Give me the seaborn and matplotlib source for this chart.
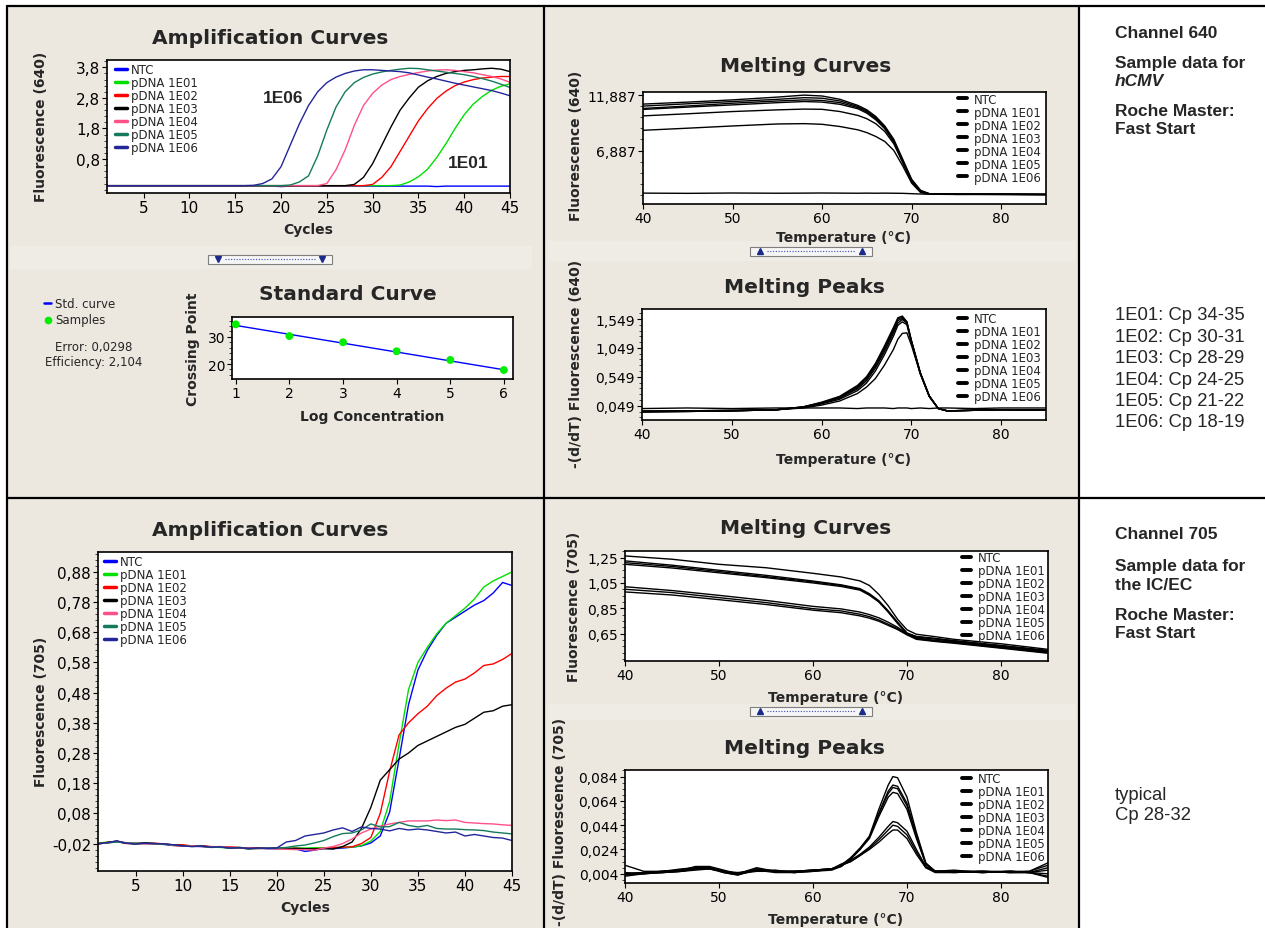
import pandas as pd
import seaborn as sns
import matplotlib.pyplot as plt
from matplotlib.ticker import AutoMinorLocator
from matplotlib.patches import Rectangle
from matplotlib.lines import Line2D

# ---- data ----
samples = ['NTC', 'pDNA 1E01', 'pDNA 1E02', 'pDNA 1E03', 'pDNA 1E04', 'pDNA 1E05', 'pDNA 1E06']
amp_colors = ['#0000FF', '#00E000', '#FF0000', '#000000', '#FF5088', '#157A5C', '#25259A']
melt_colors = ['#000000'] * 7

cycles = list(range(1, 46))

# channel 640 amplification
amp640_ntc = [-0.085] * 19 + [-0.10] + [-0.085] * 16 + [-0.10] + [-0.085] * 8
amp640_1e01 = [-0.07] * 32 + [-0.05, 0.05, 0.22, 0.47, 0.85, 1.3, 1.8, 2.25, 2.6, 2.85, 3.05, 3.18, 3.26]
amp640_1e02 = [-0.07] * 29 + [-0.03, 0.2, 0.55, 1.05, 1.55, 2.05, 2.45, 2.78, 3.02, 3.2, 3.32, 3.4, 3.45,
                              3.48, 3.5, 3.5]
amp640_1e03 = [-0.07] * 27 + [-0.03, 0.2, 0.65, 1.25, 1.85, 2.4, 2.8, 3.15, 3.36, 3.5, 3.6, 3.66, 3.7, 3.72,
                              3.75, 3.77, 3.74, 3.66]
amp640_1e04 = [-0.07] * 24 + [0.0, 0.45, 1.1, 1.9, 2.55, 2.95, 3.22, 3.4, 3.5, 3.57, 3.63, 3.68, 3.71, 3.72,
                              3.7, 3.66, 3.62, 3.56, 3.5, 3.42, 3.31]
amp640_1e05 = [-0.07] * 20 + [-0.05, 0.05, 0.25, 0.9, 1.75, 2.5, 3.0, 3.3, 3.47, 3.58, 3.65, 3.7, 3.74, 3.77,
                              3.76, 3.72, 3.68, 3.64, 3.6, 3.56, 3.5, 3.43, 3.35, 3.25, 3.14]
amp640_1e06 = [-0.07] * 16 + [-0.06, 0.0, 0.15, 0.55, 1.25, 1.95, 2.55, 3.0, 3.3, 3.48, 3.6, 3.68, 3.72, 3.72,
                              3.7, 3.68, 3.66, 3.62, 3.55, 3.48, 3.42, 3.35, 3.28, 3.22, 3.16, 3.1, 3.04,
                              2.96, 2.87]

# channel 705 amplification
amp705_ntc = [-0.021, -0.017, -0.013, -0.019, -0.020, -0.018, -0.021, -0.023, -0.026, -0.028, -0.029, -0.030,
              -0.032, -0.031, -0.034, -0.034, -0.036, -0.035, -0.037, -0.037, -0.036, -0.038, -0.046, -0.042,
              -0.036, -0.037, -0.035, -0.032, -0.028, -0.018, 0.005, 0.085, 0.26, 0.44, 0.555, 0.62, 0.67,
              0.71, 0.73, 0.75, 0.77, 0.785, 0.81, 0.845, 0.835]
amp705_1e01 = [-0.019, -0.015, -0.014, -0.018, -0.021, -0.019, -0.020, -0.022, -0.024, -0.026, -0.029, -0.028,
               -0.031, -0.033, -0.034, -0.033, -0.035, -0.036, -0.036, -0.037, -0.036, -0.035, -0.035, -0.034,
               -0.034, -0.033, -0.033, -0.032, -0.027, -0.012, 0.02, 0.12, 0.31, 0.49, 0.58, 0.63, 0.675,
               0.71, 0.735, 0.76, 0.79, 0.83, 0.85, 0.865, 0.88]
amp705_1e02 = [-0.022, -0.016, -0.013, -0.020, -0.019, -0.020, -0.019, -0.021, -0.025, -0.024, -0.028, -0.027,
               -0.030, -0.031, -0.031, -0.033, -0.035, -0.034, -0.036, -0.036, -0.037, -0.036, -0.038, -0.037,
               -0.036, -0.034, -0.032, -0.031, -0.020, 0.000, 0.080, 0.22, 0.34, 0.38, 0.41, 0.435, 0.47,
               0.495, 0.515, 0.525, 0.545, 0.57, 0.575, 0.59, 0.61]
amp705_1e03 = [-0.020, -0.017, -0.012, -0.019, -0.021, -0.018, -0.020, -0.022, -0.025, -0.027, -0.028, -0.029,
               -0.031, -0.032, -0.034, -0.034, -0.038, -0.036, -0.036, -0.035, -0.037, -0.036, -0.037, -0.038,
               -0.037, -0.038, -0.030, -0.015, 0.030, 0.100, 0.19, 0.225, 0.26, 0.28, 0.305, 0.32, 0.335,
               0.35, 0.365, 0.375, 0.395, 0.415, 0.42, 0.435, 0.44]
amp705_1e04 = [-0.021, -0.018, -0.014, -0.017, -0.020, -0.021, -0.022, -0.020, -0.027, -0.029, -0.027, -0.030,
               -0.031, -0.030, -0.033, -0.035, -0.035, -0.037, -0.036, -0.038, -0.039, -0.040, -0.040, -0.042,
               -0.035, -0.030, -0.020, -0.005, 0.015, 0.028, 0.038, 0.045, 0.050, 0.055, 0.055, 0.055, 0.058,
               0.056, 0.058, 0.050, 0.048, 0.046, 0.045, 0.042, 0.040]
amp705_1e05 = [-0.020, -0.018, -0.015, -0.018, -0.019, -0.020, -0.021, -0.022, -0.025, -0.028, -0.030, -0.029,
               -0.033, -0.032, -0.035, -0.033, -0.037, -0.036, -0.035, -0.035, -0.033, -0.028, -0.025, -0.018,
               -0.010, 0.003, 0.013, 0.015, 0.025, 0.045, 0.035, 0.036, 0.050, 0.040, 0.035, 0.040, 0.030,
               0.028, 0.028, 0.026, 0.025, 0.023, 0.018, 0.015, 0.012]
amp705_1e06 = [-0.021, -0.017, -0.011, -0.019, -0.022, -0.019, -0.020, -0.021, -0.024, -0.028, -0.030, -0.028,
               -0.032, -0.031, -0.035, -0.034, -0.036, -0.035, -0.036, -0.035, -0.015, -0.010, 0.005, 0.010,
               0.015, 0.025, 0.032, 0.020, 0.035, 0.030, 0.028, 0.022, 0.030, 0.025, 0.028, 0.025, 0.020,
               0.015, 0.018, 0.005, 0.010, 0.005, 0.000, -0.002, -0.010]

# channel 640 melting curves
melt640_temp = [40, 45, 50, 55, 58, 60, 62, 64, 65, 66, 67, 68, 69, 70, 71, 72, 75, 80, 85]
melt640_ntc = [3.05, 3.03, 3.06, 3.04, 3.05, 3.06, 3.05, 3.04, 3.05, 3.04, 3.05, 3.04, 3.03, 3.00, 2.97,
               2.95, 2.95, 2.96, 2.94]
melt640_c1 = [11.07, 11.25, 11.45, 11.70, 11.88, 11.80, 11.50, 10.95, 10.55, 9.95, 9.10, 7.90, 6.10, 4.30,
              3.30, 3.00, 2.96, 2.95, 2.94]
melt640_c2 = [10.89, 11.10, 11.30, 11.50, 11.65, 11.60, 11.35, 10.85, 10.45, 9.85, 9.00, 7.80, 6.00, 4.20,
              3.25, 2.98, 2.95, 2.94, 2.93]
melt640_c3 = [10.68, 10.90, 11.15, 11.35, 11.45, 11.40, 11.20, 10.75, 10.35, 9.75, 8.90, 7.70, 5.90, 4.15,
              3.20, 2.97, 2.94, 2.95, 2.92]
melt640_c4 = [10.59, 10.80, 11.00, 11.20, 11.30, 11.25, 11.05, 10.65, 10.25, 9.65, 8.85, 7.65, 5.85, 4.10,
              3.20, 2.97, 2.95, 2.93, 2.93]
melt640_c5 = [10.01, 10.20, 10.40, 10.55, 10.62, 10.60, 10.40, 10.05, 9.75, 9.30, 8.60, 7.50, 5.80, 4.05,
              3.15, 2.96, 2.94, 2.94, 2.92]
melt640_c6 = [8.71, 8.90, 9.10, 9.28, 9.31, 9.25, 9.05, 8.75, 8.50, 8.15, 7.70, 6.90, 5.50, 3.95, 3.10,
              2.95, 2.93, 2.93, 2.91]

# channel 640 melting peaks
peak640_temp = [40, 45, 50, 55, 58, 60, 62, 64, 65, 66, 67, 68, 68.5, 69, 69.5, 70, 71, 72, 73, 74, 77, 80, 85]
peak640_ntc = [0.00, 0.01, 0.00, 0.01, 0.01, 0.01, 0.01, 0.00, 0.01, 0.01, 0.01, 0.00, 0.01, 0.01, 0.01,
               0.00, 0.01, 0.00, 0.01, 0.01, 0.00, 0.01, 0.01]
peak640_p1 = [-0.06, -0.05, -0.04, -0.02, 0.03, 0.11, 0.21, 0.40, 0.55, 0.78, 1.08, 1.40, 1.57, 1.60, 1.50,
              1.18, 0.62, 0.22, 0.00, -0.04, -0.03, -0.02, -0.03]
peak640_p2 = [-0.06, -0.05, -0.04, -0.02, 0.03, 0.10, 0.20, 0.38, 0.53, 0.76, 1.05, 1.37, 1.55, 1.58, 1.50,
              1.18, 0.62, 0.22, 0.00, -0.04, -0.03, -0.02, -0.03]
peak640_p3 = [-0.05, -0.05, -0.04, -0.02, 0.03, 0.10, 0.19, 0.36, 0.51, 0.73, 1.02, 1.34, 1.52, 1.56, 1.49,
              1.17, 0.61, 0.21, 0.00, -0.04, -0.03, -0.02, -0.03]
peak640_p4 = [-0.05, -0.04, -0.04, -0.02, 0.02, 0.09, 0.18, 0.34, 0.48, 0.70, 0.98, 1.30, 1.48, 1.54, 1.48,
              1.16, 0.61, 0.21, 0.00, -0.04, -0.03, -0.02, -0.02]
peak640_p5 = [-0.05, -0.04, -0.03, -0.02, 0.02, 0.08, 0.16, 0.31, 0.44, 0.65, 0.93, 1.25, 1.44, 1.50, 1.45,
              1.15, 0.60, 0.21, 0.00, -0.04, -0.03, -0.02, -0.02]
peak640_p6 = [-0.04, -0.04, -0.03, -0.02, 0.01, 0.06, 0.13, 0.26, 0.37, 0.52, 0.75, 1.02, 1.20, 1.30, 1.31,
              1.10, 0.60, 0.21, 0.00, -0.04, -0.03, -0.02, -0.02]

# channel 705 melting curves
melt705_temp = [40, 45, 50, 55, 60, 63, 65, 66, 67, 68, 69, 70, 71, 73, 75, 80, 85]
melt705_m1 = [1.263, 1.237, 1.197, 1.170, 1.126, 1.097, 1.066, 1.030, 0.960, 0.870, 0.763, 0.680, 0.645,
              0.626, 0.605, 0.570, 0.526]
melt705_m2 = [1.224, 1.190, 1.150, 1.110, 1.065, 1.035, 1.005, 0.965, 0.910, 0.830, 0.740, 0.655, 0.628,
              0.612, 0.595, 0.557, 0.518]
melt705_m3 = [1.210, 1.180, 1.140, 1.100, 1.058, 1.030, 1.000, 0.960, 0.905, 0.825, 0.735, 0.652, 0.625,
              0.610, 0.592, 0.553, 0.512]
melt705_m4 = [1.197, 1.168, 1.130, 1.092, 1.050, 1.022, 0.993, 0.953, 0.900, 0.820, 0.730, 0.650, 0.622,
              0.607, 0.588, 0.549, 0.508]
melt705_m5 = [1.020, 0.990, 0.952, 0.912, 0.865, 0.845, 0.820, 0.800, 0.775, 0.740, 0.700, 0.650, 0.615,
              0.597, 0.583, 0.545, 0.505]
melt705_m6 = [1.000, 0.974, 0.934, 0.895, 0.847, 0.829, 0.803, 0.784, 0.758, 0.724, 0.690, 0.645, 0.610,
              0.592, 0.579, 0.539, 0.500]
melt705_m7 = [0.979, 0.955, 0.918, 0.880, 0.835, 0.815, 0.790, 0.772, 0.748, 0.715, 0.682, 0.640, 0.605,
              0.588, 0.574, 0.535, 0.495]

# channel 705 melting peaks
peak705_temp = [40, 42, 44, 46, 47.5, 49, 50.5, 52, 54, 56, 58, 60, 62, 63, 64, 65, 66, 67, 68, 68.5, 69,
                70, 71, 72, 73, 75, 78, 81, 83, 85]
peak705_q1 = [0.011, 0.006, 0.006, 0.007, 0.010, 0.010, 0.007, 0.004, 0.008, 0.006, 0.006, 0.007, 0.008,
              0.011, 0.017, 0.025, 0.035, 0.057, 0.077, 0.084, 0.083, 0.067, 0.038, 0.013, 0.006, 0.006,
              0.006, 0.006, 0.006, 0.011]
peak705_q2 = [0.004, 0.005, 0.006, 0.008, 0.009, 0.009, 0.006, 0.004, 0.009, 0.006, 0.006, 0.007, 0.008,
              0.011, 0.017, 0.025, 0.034, 0.054, 0.072, 0.077, 0.076, 0.062, 0.036, 0.012, 0.006, 0.007,
              0.005, 0.006, 0.005, 0.009]
peak705_q3 = [0.003, 0.005, 0.005, 0.006, 0.008, 0.009, 0.006, 0.005, 0.007, 0.007, 0.005, 0.007, 0.008,
              0.010, 0.016, 0.024, 0.034, 0.053, 0.070, 0.075, 0.074, 0.060, 0.035, 0.012, 0.006, 0.006,
              0.006, 0.005, 0.006, 0.013]
peak705_q4 = [0.005, 0.004, 0.006, 0.007, 0.008, 0.008, 0.005, 0.003, 0.008, 0.006, 0.006, 0.006, 0.007,
              0.010, 0.016, 0.024, 0.033, 0.051, 0.067, 0.071, 0.070, 0.057, 0.033, 0.012, 0.006, 0.006,
              0.005, 0.006, 0.005, 0.004]
peak705_q5 = [0.003, 0.004, 0.005, 0.006, 0.007, 0.008, 0.006, 0.004, 0.006, 0.006, 0.005, 0.006, 0.008,
              0.012, 0.015, 0.020, 0.026, 0.034, 0.043, 0.047, 0.046, 0.039, 0.024, 0.010, 0.006, 0.005,
              0.006, 0.005, 0.005, 0.007]
peak705_q6 = [0.004, 0.005, 0.006, 0.007, 0.009, 0.008, 0.006, 0.004, 0.007, 0.006, 0.006, 0.007, 0.008,
              0.011, 0.014, 0.019, 0.025, 0.032, 0.040, 0.044, 0.043, 0.036, 0.022, 0.009, 0.006, 0.006,
              0.005, 0.006, 0.005, 0.002]
peak705_q7 = [0.002, 0.004, 0.005, 0.006, 0.008, 0.009, 0.005, 0.003, 0.007, 0.005, 0.005, 0.006, 0.008,
              0.011, 0.014, 0.019, 0.024, 0.030, 0.037, 0.040, 0.040, 0.033, 0.020, 0.009, 0.005, 0.005,
              0.006, 0.005, 0.005, 0.001]

# standard curve
log_conc = [1, 2, 3, 4, 5, 6]
crossing_point = [34.6, 30.3, 28.0, 24.7, 21.5, 17.8]
std_fit_x = [1, 6]
std_fit_y = [34.2, 17.9]

# tick positions / labels
amp_xticks = [5, 10, 15, 20, 25, 30, 35, 40, 45]
melt_xticks = [40, 50, 60, 70, 80]
amp640_yticks = [0.8, 1.8, 2.8, 3.8]
amp705_yticks = [-0.02, 0.08, 0.18, 0.28, 0.38, 0.48, 0.58, 0.68, 0.78, 0.88]
melt640_yticks = [6.887, 11.887]
melt640_yticklabels = ['6,887', '11,887']
peak640_yticks = [0.049, 0.549, 1.049, 1.549]
melt705_yticks = [0.65, 0.85, 1.05, 1.25]
peak705_yticks = [0.004, 0.024, 0.044, 0.064, 0.084]
std_yticks = [20, 30]

notes_640 = ['1E01: Cp 34-35', '1E02: Cp 30-31', '1E03: Cp 28-29',
             '1E04: Cp 24-25', '1E05: Cp 21-22', '1E06: Cp 18-19']

# ---- figure ----
sns.set_style('ticks')
plt.rcParams['font.family'] = ['DejaVu Sans']

W, H = 1265, 929
BEIGE = '#ECE7DF'
fig = plt.figure(figsize=(W / 100, H / 100), dpi=100)
fig.patch.set_facecolor('white')


def fx(x):
    return x / W


def fy(y):
    return 1 - y / H


def make_ax(l, t, r, b):
    return fig.add_axes([fx(l), fy(b), (r - l) / W, (b - t) / H])


def comma(vals, fmt):
    return [fmt.format(v).replace('.', ',') for v in vals]


def long_frame(x, series):
    parts = [pd.DataFrame({'x': x, 'y': ys, 'sample': name}) for name, ys in zip(samples, series)]
    return pd.concat(parts, ignore_index=True)


def draw_curves(ax, x, series, colors, lw=1.0):
    sns.lineplot(data=long_frame(x, series), x='x', y='y', hue='sample', hue_order=samples,
                 palette=colors, linewidth=lw, estimator=None, sort=False, ax=ax)


def style(ax, xlim, ylim, xticks, yticks, yticklabels, fs, minor=5):
    ax.set_facecolor('white')
    ax.set_xlim(*xlim)
    ax.set_ylim(*ylim)
    ax.set_xticks(xticks)
    ax.set_xticklabels([str(v) for v in xticks])
    ax.set_yticks(yticks)
    ax.set_yticklabels(yticklabels)
    ax.yaxis.set_minor_locator(AutoMinorLocator(minor))
    ax.set_xlabel('')
    ax.set_ylabel('')
    for sp in ax.spines.values():
        sp.set_visible(True)
        sp.set_color('black')
        sp.set_linewidth(1.2)
    ax.tick_params(which='major', direction='out', length=3.5, width=0.8, labelsize=fs, pad=1.5,
                   colors='black')
    ax.tick_params(which='minor', direction='out', length=2, width=0.6)


def legend(ax, x, y, hl, pad, lw):
    sns.move_legend(ax, 'upper left', bbox_to_anchor=(x, y), frameon=False, title=None,
                    fontsize=8.5, handlelength=hl, handletextpad=pad, labelspacing=0.0,
                    borderpad=0, borderaxespad=0)
    for h in ax.get_legend().legend_handles:
        h.set_linewidth(lw)


def ftext(x, y, s, **kw):
    kw.setdefault('ha', 'center')
    kw.setdefault('va', 'center')
    fig.text(fx(x), fy(y), s, **kw)


def title(x, y, s):
    ftext(x, y, s, fontsize=14.5, fontweight='bold')


def slider(x0, x1, yc, up):
    fig.add_artist(Rectangle((fx(x0), fy(yc + 4.5)), (x1 - x0) / W, 9 / H, transform=fig.transFigure,
                             facecolor='#F6F6F6', edgecolor='#7F7F7F', lw=0.8, zorder=1))
    for xm in (x0 + 10, x1 - 10):
        fig.add_artist(Line2D([fx(xm)], [fy(yc)], marker='^' if up else 'v', ms=4, color='#1C2A8C',
                              transform=fig.transFigure, zorder=2))
    fig.add_artist(Line2D([fx(x0 + 17), fx(x1 - 17)], [fy(yc), fy(yc)], ls=(0, (1, 1.5)), lw=0.8,
                          color='#3A4AB0', transform=fig.transFigure, zorder=2))


# background panels and frame
fig.add_artist(Rectangle((fx(7), 0), (1079 - 7) / W, fy(6.7), transform=fig.transFigure,
                         facecolor=BEIGE, edgecolor='none', zorder=-2))
for (x0, y0, x1, y1) in [(10, 247, 532, 270), (548, 242, 1076, 262), (548, 705, 1076, 721)]:
    fig.add_artist(Rectangle((fx(x0), fy(y1)), (x1 - x0) / W, (y1 - y0) / H, transform=fig.transFigure,
                             facecolor='#EFEBE5', edgecolor='none', zorder=-1))
frame_lines = [((7, 1265), (6.7, 6.7)), ((7, 7), (6.7, 929)), ((544, 544), (6.7, 929)),
               ((1079, 1079), (6.7, 929)), ((7, 1265), (499, 499))]
for xs, ys in frame_lines:
    fig.add_artist(Line2D([fx(v) for v in xs], [fy(v) for v in ys], color='black', lw=1.6,
                          transform=fig.transFigure, zorder=5))

# ---- channel 640 amplification ----
ax = make_ax(107, 61, 510, 194)
draw_curves(ax, cycles, [amp640_ntc, amp640_1e01, amp640_1e02, amp640_1e03, amp640_1e04,
                         amp640_1e05, amp640_1e06], amp_colors)
style(ax, (1, 45), (-0.31, 4.04), amp_xticks, amp640_yticks, comma(amp640_yticks, '{:.1f}'), 11)
legend(ax, 0.02, 0.975, 1.0, 0.35, 2.5)
ax.text(20.2, 2.82, '1E06', ha='center', va='center', fontsize=12.5, fontweight='bold',
        family='Liberation Sans')
ax.text(40.4, 0.69, '1E01', ha='center', va='center', fontsize=12.5, fontweight='bold',
        family='Liberation Sans')
title(270, 38, 'Amplification Curves')
ftext(41, 127, 'Fluorescence (640)', rotation=90, fontsize=10, fontweight='bold')
ftext(308, 230, 'Cycles', fontsize=10, fontweight='bold')
slider(208, 332, 260, False)

# ---- standard curve ----
ax = make_ax(232, 318, 513, 380)
sns.lineplot(x=std_fit_x, y=std_fit_y, color='#0000FF', linewidth=1.0, ax=ax)
sns.scatterplot(x=log_conc, y=crossing_point, color='#00EE00', s=32, edgecolor='none', zorder=3, ax=ax)
style(ax, (0.93, 6.17), (14.5, 37.3), log_conc, std_yticks, [str(v) for v in std_yticks], 10)
title(348, 295, 'Standard Curve')
ftext(193, 349, 'Crossing Point', rotation=90, fontsize=10, fontweight='bold')
ftext(372, 417, 'Log Concentration', fontsize=10, fontweight='bold')
fig.add_artist(Line2D([fx(44), fx(51)], [fy(304), fy(304)], color='#0000FF', lw=1.8,
                      transform=fig.transFigure))
fig.add_artist(Line2D([fx(47.5)], [fy(321)], marker='o', ms=4.5, color='#00EE00', lw=0,
                      transform=fig.transFigure))
ftext(55, 304, 'Std. curve', ha='left', fontsize=8.5)
ftext(55, 321, 'Samples', ha='left', fontsize=8.5)
ftext(94, 348, 'Error: 0,0298', fontsize=8.5)
ftext(94, 363, 'Efficiency: 2,104', fontsize=8.5)

# ---- channel 640 melting curves ----
ax = make_ax(643, 93, 1046, 205)
draw_curves(ax, melt640_temp, [melt640_ntc, melt640_c1, melt640_c2, melt640_c3, melt640_c4,
                               melt640_c5, melt640_c6], melt_colors)
style(ax, (40, 85), (2.07, 12.16), melt_xticks, melt640_yticks, melt640_yticklabels, 10)
legend(ax, 0.782, 0.995, 0.75, 0.6, 2.8)
title(806, 67, 'Melting Curves')
ftext(576, 146, 'Fluorescence (640)', rotation=90, fontsize=10, fontweight='bold')
ftext(844, 238, 'Temperature (°C)', fontsize=10, fontweight='bold')
slider(750, 872, 252, True)

# ---- channel 640 melting peaks ----
ax = make_ax(642, 310, 1046, 421)
draw_curves(ax, peak640_temp, [peak640_ntc, peak640_p1, peak640_p2, peak640_p3, peak640_p4,
                               peak640_p5, peak640_p6], melt_colors)
style(ax, (40, 85), (-0.198, 1.722), melt_xticks, peak640_yticks, comma(peak640_yticks, '{:.3f}'), 10)
legend(ax, 0.782, 0.973, 0.75, 0.6, 2.8)
title(804, 288, 'Melting Peaks')
ftext(576, 364, '-(d/dT) Fluorescence (640)', rotation=90, fontsize=10, fontweight='bold')
ftext(844, 460, 'Temperature (°C)', fontsize=10, fontweight='bold')

# ---- channel 705 amplification ----
ax = make_ax(98, 553, 512, 872)
draw_curves(ax, cycles, [amp705_ntc, amp705_1e01, amp705_1e02, amp705_1e03, amp705_1e04,
                         amp705_1e05, amp705_1e06], amp_colors)
style(ax, (1, 45), (-0.111, 0.946), amp_xticks, amp705_yticks, comma(amp705_yticks, '{:.2f}'), 11)
legend(ax, 0.015, 0.99, 1.0, 0.35, 2.5)
title(270, 531, 'Amplification Curves')
ftext(41, 712, 'Fluorescence (705)', rotation=90, fontsize=10, fontweight='bold')
ftext(305, 908, 'Cycles', fontsize=10, fontweight='bold')

# ---- channel 705 melting curves ----
ax = make_ax(625, 552, 1048, 662)
draw_curves(ax, melt705_temp, [melt705_m1, melt705_m2, melt705_m3, melt705_m4, melt705_m5,
                               melt705_m6, melt705_m7], melt_colors)
style(ax, (40, 85), (0.434, 1.302), melt_xticks, melt705_yticks, comma(melt705_yticks, '{:.2f}'), 10,
      minor=4)
legend(ax, 0.796, 1.0, 0.75, 0.6, 2.8)
title(806, 528, 'Melting Curves')
ftext(574, 607, 'Fluorescence (705)', rotation=90, fontsize=10, fontweight='bold')
ftext(836, 698, 'Temperature (°C)', fontsize=10, fontweight='bold')
slider(750, 872, 712, True)

# ---- channel 705 melting peaks ----
ax = make_ax(625, 771, 1048, 884)
draw_curves(ax, peak705_temp, [peak705_q1, peak705_q2, peak705_q3, peak705_q4, peak705_q5,
                               peak705_q6, peak705_q7], melt_colors)
style(ax, (40, 85), (-0.0036, 0.0894), melt_xticks, peak705_yticks, comma(peak705_yticks, '{:.3f}'), 10,
      minor=4)
legend(ax, 0.796, 0.98, 0.75, 0.6, 2.8)
title(804, 749, 'Melting Peaks')
ftext(560, 822, '-(d/dT) Fluorescence (705)', rotation=90, fontsize=10, fontweight='bold')
ftext(836, 920, 'Temperature (°C)', fontsize=10, fontweight='bold')

# ---- right-hand notes ----
bold = dict(ha='left', fontsize=12.5, fontweight='bold', family='Liberation Sans')
plain = dict(ha='left', fontsize=13.3, family='Liberation Sans')
ftext(1115, 33, 'Channel 640', **bold)
ftext(1115, 64, 'Sample data for', **bold)
ftext(1115, 81, 'hCMV', fontstyle='italic', **bold)
ftext(1115, 112, 'Roche Master:', **bold)
ftext(1115, 129, 'Fast Start', **bold)
for i, line in enumerate(notes_640):
    ftext(1115, 316 + i * 21.4, line, **plain)
ftext(1115, 535, 'Channel 705', **bold)
ftext(1115, 566, 'Sample data for', **bold)
ftext(1115, 585, 'the IC/EC', **bold)
ftext(1115, 615, 'Roche Master:', **bold)
ftext(1115, 633, 'Fast Start', **bold)
ftext(1115, 796, 'typical', **plain)
ftext(1115, 816, 'Cp 28-32', **plain)

fig.savefig('out.png', dpi=100, facecolor=fig.get_facecolor())
